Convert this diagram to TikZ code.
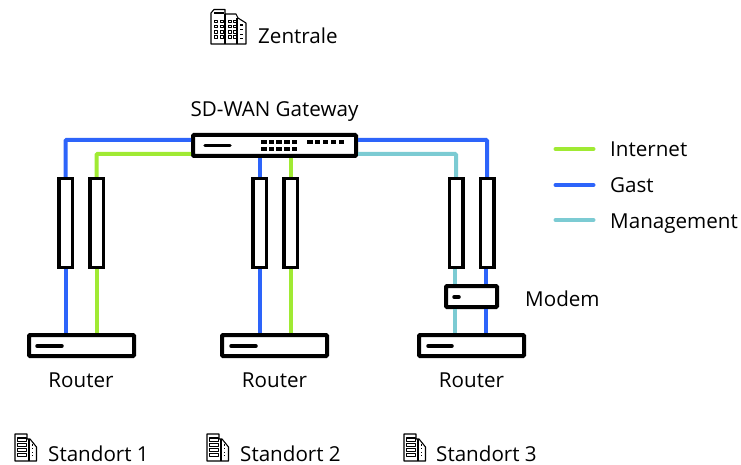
\documentclass[tikz,border=0pt]{standalone}
\usepackage{fontspec}
\setmainfont{Open Sans}
\usetikzlibrary{positioning}

\definecolor{inetgreen}{HTML}{A0EA33}
\definecolor{gastblue}{HTML}{2D64FA}
\definecolor{mgmtteal}{HTML}{7CCBD3}

\begin{document}
\begin{tikzpicture}[
        x=1pt, y=-1pt,
        box/.style={draw, line width=4pt, rounded corners=1pt, fill=white, minimum height=21pt, inner sep=0pt},
        router/.style={box, minimum width=105pt},
        tunnel/.style={draw, line width=3.5pt, fill=white, minimum width=13.5pt, minimum height=88.5pt, inner sep=0pt},
        internet/.style={draw=inetgreen, line width=4pt, rounded corners=1pt},
        gast/.style={draw=gastblue, line width=4pt, rounded corners=1pt},
        management/.style={draw=mgmtteal, line width=4pt, rounded corners=1pt},
        label/.style={font=\fontsize{20.6}{24}\selectfont, inner sep=0pt},
        bar/.style={line width=3.5pt, line cap=round},
        icon/.style={line width=1.1pt, line join=round}
    ]
    \useasboundingbox (0,0) rectangle (741,465);

    % devices
    \node[box, minimum width=163pt] (gateway) at (274.5,145.5) {};
    \node[router] (router1) at (81.5,345.5) {};
    \node[router] (router2) at (274.5,345.5) {};
    \node[router] (router3) at (471.5,345.5) {};
    \node[box, minimum width=51pt] (modem) at (471.5,296.5) {};

    % tunnels
    \foreach \name/\xpos in {t1a/65.5, t1b/96.5, t2a/259.5, t2b/290.5, t3a/456, t3b/487} {
        \node[tunnel] (\name) at (\xpos,223) {};
    }

    \coordinate (m3a) at (454.5,284);
    \coordinate (m3b) at (485.5,284);

    % site 1
    \draw[gast] ([yshift=5.5pt]gateway.west) -| (t1a.north);
    \draw[internet] ([yshift=-8.5pt]gateway.west) -| (t1b.north);
    \draw[gast] (t1a.south) -- (t1a.south |- router1.north);
    \draw[internet] (t1b.south) -- (t1b.south |- router1.north);

    % site 2
    \draw[gast] (t2a.north |- gateway.south) -- (t2a.north);
    \draw[internet] (t2b.north |- gateway.south) -- (t2b.north);
    \draw[gast] (t2a.south) -- (t2a.south |- router2.north);
    \draw[internet] (t2b.south) -- (t2b.south |- router2.north);

    % site 3
    \draw[gast] ([yshift=5.5pt]gateway.east) -| (t3b.north);
    \draw[management] ([yshift=-8.5pt]gateway.east) -| (t3a.north);
    \draw[management] (t3a.south -| m3a) -- (m3a);
    \draw[gast] (t3b.south -| m3b) -- (m3b);
    \draw[management] (m3a |- modem.south) -- (m3a |- router3.north);
    \draw[gast] (m3b |- modem.south) -- (m3b |- router3.north);

    % front panels
    \draw[bar] (205,145.5) -- (230,145.5);
    \draw[bar] (37,346) -- (62,346);
    \draw[bar] (231,346) -- (256,346);
    \draw[bar] (428,346) -- (452,346);
    \draw[bar] (454,297) -- (459,297);
    \foreach \i in {0,...,4} {
        \fill (261+7.7*\i,140) rectangle ++(5.5,4);
        \fill (261+7.7*\i,147) rectangle ++(5.5,4);
        \fill (307+7.9*\i,140) rectangle ++(5.5,4);
    }

    % legend
    \foreach \name/\ypos/\style/\txt in {a/149/internet/Internet, b/185/gast/Gast, c/220/management/Management} {
        \coordinate (leg\name l) at (555.5,\ypos);
        \coordinate (leg\name r) at (593.5,\ypos);
        \draw[\style, line cap=round] (leg\name l) -- (leg\name r);
        \node[label, anchor=base west] (leg\name) at (610,\ypos+8) {\txt};
    }

    % labels
    \node[label, anchor=base] (gwlabel) at (274.5,117) {SD-WAN Gateway};
    \node[label, anchor=base west] (zentrale) at (258,44) {Zentrale};
    \node[label, anchor=base west] (modemlabel) at (525,306) {Modem};
    \node[label, anchor=base] (rlabel1) at (81,387) {Router};
    \node[label, anchor=base] (rlabel2) at (274.5,387) {Router};
    \node[label, anchor=base] (rlabel3) at (471.5,387) {Router};
    \node[label, anchor=base west] (site1) at (48,461) {Standort 1};
    \node[label, anchor=base west] (site2) at (240,461) {Standort 2};
    \node[label, anchor=base west] (site3) at (436,461) {Standort 3};

    % head office icon
    \begin{scope}[icon]
        \draw (211,44) -- (211,13) -- (214,9.5) -- (225,9.5) -- (225,14) -- (236,14) -- (238,18) -- (246,23) -- (246,44) -- cycle;
        \draw (225,14) -- (225,44) (237,18) -- (237,44) (214,13) -- (224,13);
        \foreach \row in {0,...,3} {
            \foreach \xpos in {215,221,229,234} {
                \draw[line width=.9pt] (\xpos-1,20+5.3*\row) rectangle ++(3,2.4);
            }
        }
        \foreach \row in {0,...,3} {
            \draw (240,25+4.6*\row) -- (243,25+4.6*\row);
        }
    \end{scope}

    % site icons
    \foreach \xoff in {0,192,389} {
        \begin{scope}[icon, xshift=\xoff pt]
            \draw (15,434) -- (27,434) -- (27,439) -- (30,439) -- (36.5,447) -- (36.5,461) -- (15,461) -- cycle;
            \draw (29,439) -- (29,461);
            \foreach \row in {0,...,3} {
                \draw (17.5,438+5.2*\row) rectangle ++(9,3.2);
            }
            \foreach \row in {0,...,3} {
                \draw[dotted] (32,445+3.6*\row) -- (35,445+3.6*\row);
            }
        \end{scope}
    }
\end{tikzpicture}
\end{document}
